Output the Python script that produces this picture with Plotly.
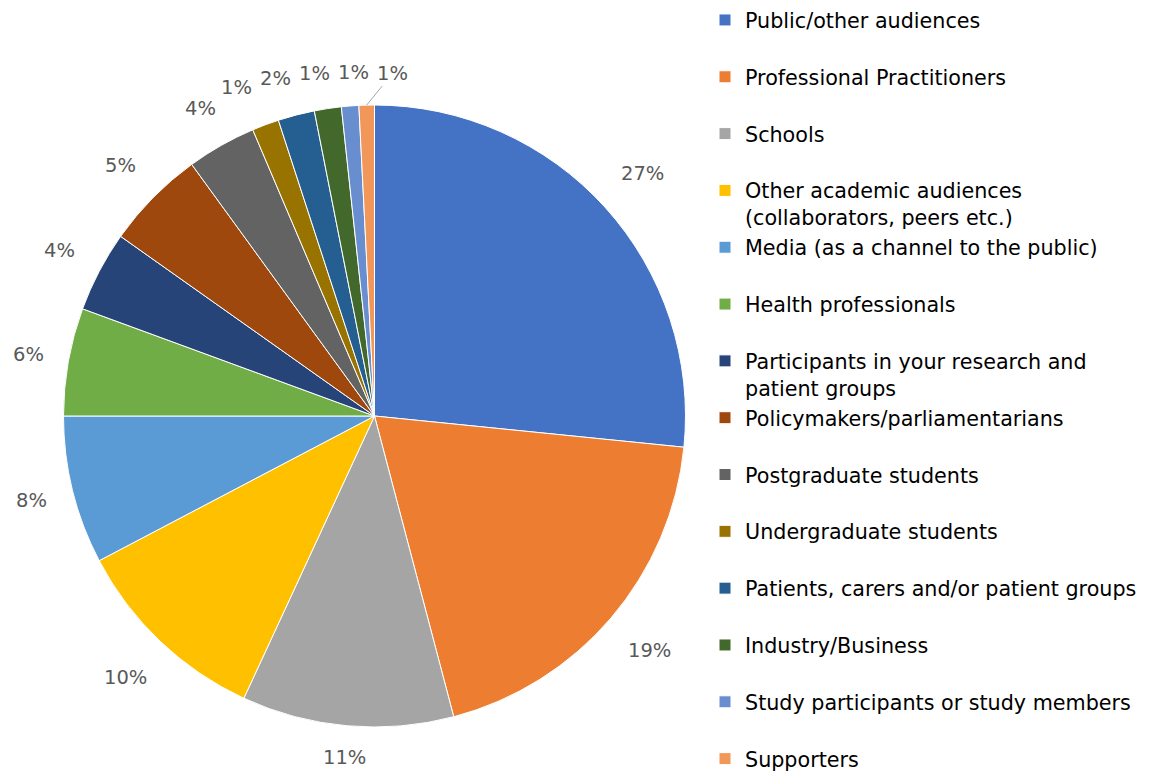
import math
import plotly.graph_objects as go

# ---- data ----
categories = [
    "Public/other audiences",
    "Professional Practitioners",
    "Schools",
    "Other academic audiences<br>(collaborators, peers etc.)",
    "Media (as a channel to the public)",
    "Health professionals",
    "Participants in your research and<br>patient groups",
    "Policymakers/parliamentarians",
    "Postgraduate students",
    "Undergraduate students",
    "Patients, carers and/or patient groups",
    "Industry/Business",
    "Study participants or study members",
    "Supporters",
]
values = [26.6, 19.3, 11.0, 10.4, 7.7, 5.6, 4.2, 5.2, 3.6, 1.4, 1.9, 1.4, 0.9, 0.8]

colors = ["#4472C4", "#ED7D31", "#A5A5A5", "#FFC000", "#5B9BD5", "#70AD47",
          "#264478", "#9E480E", "#636363", "#997300", "#255E91", "#43682B",
          "#698ED0", "#F1975A"]

W, H = 1164, 772
CX, CY, R = 374.5, 416.0, 311.0
LEG_FS = 20.7
LBL_FS = 19.5
FONT = "DejaVu Sans, sans-serif"

# legend labels: pad single-line entries with a blank second line (uniform spacing)
leg_labels = []
for i, t in enumerate(categories):
    if "<br>" in t or i == len(categories) - 1:
        leg_labels.append(t)
    else:
        leg_labels.append(t + "<br>\u00a0")

fig = go.Figure(go.Pie(
    labels=leg_labels,
    values=values,
    sort=False,
    direction="clockwise",
    rotation=0,
    marker=dict(colors=colors, line=dict(color="white", width=1)),
    textinfo="none",
    hoverinfo="label+percent",
    domain=dict(x=[(CX - R) / W, (CX + R) / W], y=[(H - CY - R) / H, (H - CY + R) / H]),
))

# ---- percentage labels placed outside (Excel-like) ----
total = sum(values)
items = []
cum = 0.0
for v in values:
    mid = (cum + v / 2) / total * 2 * math.pi
    cum += v
    pct = "%d%%" % round(v / total * 100)
    w = (0.636 * (len(pct) - 1) + 0.95) * LBL_FS
    h = 0.95 * LBL_FS
    s, c = math.sin(mid), math.cos(mid)
    d = 22 + (w / 2) * abs(s) + (h / 2) * abs(c) + 12 * abs(s * c)
    x = CX + (R + d) * s
    y = min(CY - (R + d) * c, H - h / 2 - 5)
    items.append(dict(text=pct, theta=mid, w=w, h=h, x0=x, y0=y, x=x, y=y))

# symmetric relaxation to spread overlapping labels near the top
top = sorted([it for it in items if it["y"] < CY - R + 40], key=lambda it: it["x"])
for _ in range(300):
    for a, b in zip(top, top[1:]):
        need = (a["w"] + b["w"]) / 2 + 8
        over = need - (b["x"] - a["x"])
        if abs(a["y"] - b["y"]) < a["h"] and over > 0:
            a["x"] -= over / 2
            b["x"] += over / 2

annotations = []
for it in items:
    moved = math.hypot(it["x"] - it["x0"], it["y"] - it["y0"]) > 20
    if moved:
        ex = CX + R * math.sin(it["theta"])
        ey = CY - R * math.cos(it["theta"])
        annotations.append(dict(
            x=ex / W, y=1 - ey / H, xref="paper", yref="paper",
            ax=it["x"] - ex, ay=it["y"] - ey, axref="pixel", ayref="pixel",
            text=it["text"], showarrow=True, arrowhead=0, arrowwidth=1,
            arrowcolor="#A6A6A6", standoff=0,
            font=dict(family=FONT, size=LBL_FS, color="#595959"),
        ))
    else:
        annotations.append(dict(
            x=it["x"] / W, y=1 - it["y"] / H, xref="paper", yref="paper",
            text=it["text"], showarrow=False, xanchor="center", yanchor="middle",
            font=dict(family=FONT, size=LBL_FS, color="#595959"),
        ))

fig.update_layout(
    width=W, height=H,
    margin=dict(l=0, r=0, t=0, b=0),
    paper_bgcolor="white",
    plot_bgcolor="white",
    font=dict(family=FONT),
    showlegend=True,
    legend=dict(
        x=705 / W, xanchor="left", y=1, yanchor="top",
        valign="top",
        font=dict(family=FONT, size=LEG_FS, color="#000000"),
        bgcolor="rgba(0,0,0,0)",
        traceorder="normal",
    ),
    annotations=annotations,
)

fig.write_html(
    "out.html",
    config={"staticPlot": True},
    post_script="document.body.style.margin='0px';",
)
